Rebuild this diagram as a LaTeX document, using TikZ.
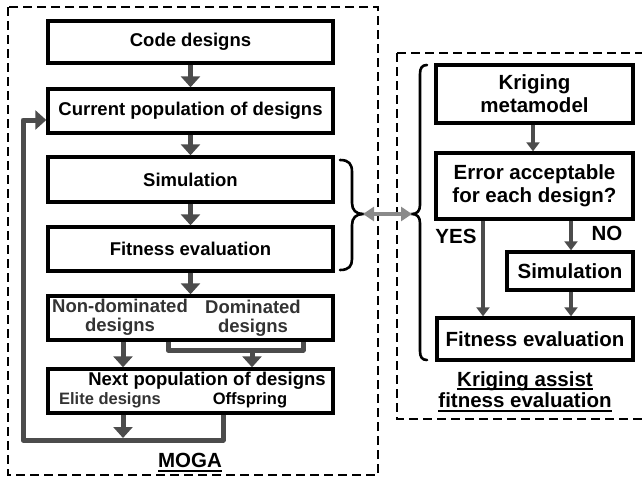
\documentclass[tikz,border=0pt]{standalone}
\usepackage{fontspec}
\setmainfont{Liberation Sans}
\usetikzlibrary{arrows.meta,backgrounds}
\definecolor{flow}{HTML}{4C4C4C}
\definecolor{link}{HTML}{8A8A8A}
\definecolor{shade}{HTML}{E0E0E0}
\definecolor{soft}{HTML}{333333}
\tikzset{
  box/.style={draw=black, line width=3.4pt, fill=white, inner sep=0pt, align=center},
  lefttxt/.style={font=\bfseries\fontsize{18.5}{19}\selectfont},
  smalltxt/.style={font=\bfseries\fontsize{16.5}{18}\selectfont},
  righttxt/.style={font=\bfseries\fontsize{20.5}{23}\selectfont},
  flowarrow/.style={draw=flow, line width=5pt, -{Triangle[width=19pt,length=11pt]}},
  flowline/.style={draw=flow, line width=5pt, line join=round},
  thinarrow/.style={draw=flow, line width=3.2pt, -{Triangle[width=13pt,length=9pt]}},
  frame/.style={draw=black, line width=2.6pt, dash pattern=on 9pt off 5pt},
  brace/.style={draw=black, line width=2.6pt, line cap=round},
  plain/.style={inner sep=0pt, align=center},
  rule/.style={draw=black, line width=2.2pt},
}
\begin{document}
\begin{tikzpicture}[x=1pt,y=-1pt]
\useasboundingbox (0,0) rectangle (642,480);

% dashed group frames
\draw[frame] (8,7) rectangle (378,475);
\draw[frame] (397,53) -- (680,53);
\draw[frame] (397,53) -- (397,419) -- (680,419);

% MOGA loop boxes
\node[box, lefttxt, minimum width=285pt, minimum height=42pt] (code) at (190.5,42) {Code designs};
\node[box, lefttxt, minimum width=285pt, minimum height=44pt] (cur) at (190.5,111) {Current population of designs};
\node[box, lefttxt, minimum width=285pt, minimum height=45pt] (sim) at (190.5,179.5) {Simulation};
\node[box, lefttxt, minimum width=285pt, minimum height=44pt] (fit) at (190.5,249) {Fitness evaluation};
\node[box, minimum width=285pt, minimum height=44pt] (dom) at (190.5,318) {};
\node[box, minimum width=285pt, minimum height=44pt] (next) at (190.5,391) {};

\begin{scope}[on background layer]
  \fill[shade] (49,297) rectangle (188,339);
  \fill[shade] (49,370) rectangle (176,412);
\end{scope}

\node[plain, lefttxt, text=soft] (nondomtxt) at (120,317) {Non-dominated\\designs};
\node[plain, lefttxt, text=soft] (domtxt) at (253,318) {Dominated\\designs};
\node[plain, lefttxt] (nexttxt) at (207,381) {Next population of designs};
\node[plain, smalltxt, text=soft] (elitetxt) at (110,400) {Elite designs};
\node[plain, smalltxt] (offtxt) at (250,400) {Offspring};

% flow between MOGA boxes
\draw[flowarrow] (code.south) -- (cur.north);
\draw[flowarrow] (cur.south) -- (sim.north);
\draw[flowarrow] (sim.south) -- (fit.north);
\draw[flowarrow] (fit.south) -- (dom.north);
\draw[flowarrow] (dom.south -| 123,0) -- (next.north -| 123,0);
\coordinate (bl) at (168,350);
\coordinate (br) at (303,350);
\draw[flowline] (dom.south -| bl) -- (bl) -- (br) -- (dom.south -| br);
\draw[flowarrow] (252,350) -- (next.north -| 252,0);
\coordinate (loopbot) at (23,440);
\coordinate (loopoff) at (223,440);
\draw[flowline, -{Triangle[width=19pt,length=11pt]}] (next.south -| loopoff) -- (loopoff) -- (loopbot) -- (23,120) -- (cur.west |- 0,120);
\draw[flowarrow] (next.south -| 123,0) -- (123,438);

\node[plain, righttxt, anchor=base] (moga) at (190,467) {MOGA};
\draw[rule] ([yshift=-4pt]moga.base west) -- ([yshift=-4pt]moga.base east);

% braces and the link between the two groups
\draw[brace] (340,160) .. controls (349,160) and (352,164) .. (352,172) -- (352,203)
  .. controls (352,210) and (356,214) .. (363,214)
  .. controls (356,214) and (352,218) .. (352,225) -- (352,259)
  .. controls (352,266) and (349,270) .. (340,270);
\draw[brace] (427,65) .. controls (422,65) and (420,68) .. (420,74) -- (420,205)
  .. controls (420,211) and (417,214) .. (412,214)
  .. controls (417,214) and (420,217) .. (420,223) -- (420,351)
  .. controls (420,357) and (422,360) .. (427,360);
\coordinate (lbrace) at (363,214);
\coordinate (rbrace) at (412,214);
\draw[draw=link, line width=3.5pt, {Triangle[width=14pt,length=11pt]}-{Triangle[width=14pt,length=11pt]}] (lbrace) -- (rbrace);

% Kriging assisted evaluation
\node[box, righttxt, minimum width=197pt, minimum height=58pt] (krig) at (534.5,94) {Kriging\\metamodel};
\node[box, righttxt, minimum width=197pt, minimum height=66pt] (err) at (534.5,186) {Error acceptable\\for each design?};
\node[box, righttxt, minimum width=126pt, minimum height=38pt] (rsim) at (570,271) {Simulation};
\node[box, righttxt, minimum width=196pt, minimum height=42pt] (rfit) at (535,339) {Fitness evaluation};

\draw[thinarrow] (krig.south -| 533,0) -- (err.north -| 533,0);
\draw[thinarrow] (err.south -| 483,0) -- (rfit.north -| 483,0);
\draw[thinarrow] (err.south -| 571,0) -- (rsim.north -| 571,0);
\draw[thinarrow] (rsim.south -| 571,0) -- (rfit.north -| 571,0);

\node[plain, righttxt] (yes) at (456,236) {YES};
\node[plain, righttxt] (no) at (607,233) {NO};
\node[plain, righttxt, anchor=base] (katop) at (525,386) {Kriging assist};
\node[plain, righttxt, anchor=base] (kabot) at (525,407) {fitness evaluation};
\draw[rule] ([yshift=-3pt]katop.base west) -- ([yshift=-3pt]katop.base east);
\draw[rule] ([yshift=-4pt]kabot.base west) -- ([yshift=-4pt]kabot.base east);
\end{tikzpicture}
\end{document}
